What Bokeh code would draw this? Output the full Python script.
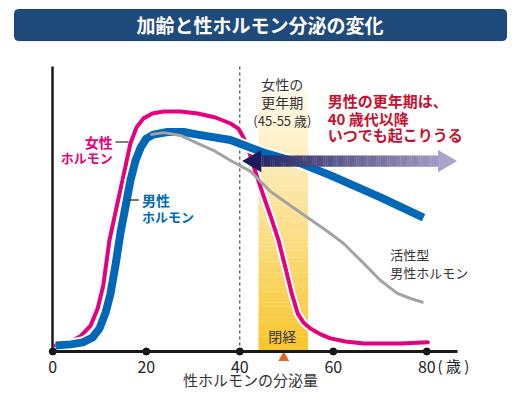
import numpy as np
from bokeh.plotting import figure
from bokeh.models import Range1d, LinearAxis, FixedTicker
from bokeh.core.properties import value
from bokeh.embed import file_html
from bokeh.resources import INLINE

# ---------------- data (age in years, relative secretion level) ----------------
female_age = [0.6, 3.8, 5.9, 8.1, 9.6, 10.8, 12.1, 13.4, 14.9, 16.6, 17.9, 19.4, 21.3, 23.7,
              27.3, 31.0, 34.8, 38.0, 39.7, 40.8, 41.9, 43.4, 44.9, 46.6, 48.3, 49.8,
              51.1, 52.4, 53.6, 55.1, 57.3, 59.4, 62.6, 66.5, 74.4, 80.2]
female_level = [2.1, 3.5, 5.3, 9.1, 15.1, 23.2, 38.9, 48.8, 60.0, 73.0, 78.6, 81.8, 83.5, 84.2,
                84.2, 83.5, 82.1, 80.0, 78.2, 75.1, 70.5, 62.8, 55.4, 47.4, 38.9, 29.1,
                20.4, 13.3, 10.2, 8.1, 6.0, 4.6, 3.5, 2.8, 2.8, 3.2]

male_age = [0.6, 3.8, 6.4, 8.5, 10.0, 11.3, 12.3, 13.4, 14.5, 15.6, 16.6, 17.7, 18.8, 20.0,
            21.5, 24.5, 28.0, 31.0, 38.0, 45.1, 53.0, 59.4, 70.1, 79.3]
male_level = [2.1, 2.5, 3.2, 4.9, 8.1, 13.7, 20.0, 30.2, 41.8, 51.2, 60.0, 67.0, 71.6, 74.7,
              76.1, 77.0, 77.0, 76.1, 74.2, 69.8, 66.0, 61.8, 54.1, 47.0]

active_age = [20.9, 23.7, 27.3, 31.0, 34.8, 38.0, 42.3, 46.6, 50.8, 55.1, 58.8, 62.2, 66.5,
              70.1, 73.7, 76.5, 79.3]
active_level = [76.1, 76.8, 75.8, 73.0, 70.2, 67.0, 63.2, 56.1, 51.2, 46.3, 42.1, 37.9, 30.9,
                24.9, 20.4, 18.6, 17.2]

tick_years = [0, 20, 40, 60, 80]
tick_labels = ["0", "20", "40", "60", "80"]
menopause_band = [44.0, 54.6]          # 女性の更年期 (45-55歳)
menopause_mark = 49.4                  # 閉経
male_climacteric = [40.5, 86.5]        # 男性の更年期: 40歳代以降
axis_end = 86.5

FONT = "Noto Sans CJK JP"
PINK = "#e4007f"
BLUE = "#0068b7"
GRAY = "#a3a3a3"
RED = "#c8102e"
TXT = "#333333"

W, H = 517, 393
p = figure(width=W, height=H, output_backend="svg", toolbar_location=None,
           x_range=Range1d(-11.19, 99.40), y_range=Range1d(-14.74, 123.16),
           x_axis_type=None, y_axis_type=None, min_border=0,
           outline_line_color=None, background_fill_color="white",
           border_fill_color="white")

# ---------------- title bar ----------------
p.quad(left=[-8.19], right=[97.05], bottom=[109.1], top=[120.0],
       fill_color="#1f4a7c", line_color="#1a3f6b", border_radius=4)
p.text(x=[44.3], y=[114.6], text=["加齢と性ホルモン分泌の変化"], text_color="white",
       text_font=value(FONT), text_font_style="bold", text_font_size="19px",
       text_align="center", text_baseline="middle")

# ---------------- menopause band (vertical gradient) ----------------
n = 70
band_top = 92.0
edges = np.linspace(0, band_top, n + 1)
tt = (edges[:-1] + edges[1:]) / 2 / band_top
c0 = np.array([248, 196, 40])
c1 = np.array([255, 251, 238])
cols = ["#%02x%02x%02x" % tuple(int(round(v)) for v in (c0 + (c1 - c0) * t ** 0.95)) for t in tt]
p.quad(left=menopause_band[0], right=menopause_band[1], bottom=edges[:-1],
       top=edges[1:] + 0.08, fill_color=cols, line_color=None)

# dashed line at age 40
p.segment(x0=[40], y0=[0], x1=[40], y1=[100], line_color="#222222",
          line_width=1, line_dash="3 3")

# ---------------- curves ----------------
p.line(female_age, female_level, line_color="white", line_width=8, line_join="round")
p.line(female_age, female_level, line_color=PINK, line_width=4, line_join="round", line_cap="round")
p.line(male_age, male_level, line_color="white", line_width=12, line_join="round")
p.line(male_age, male_level, line_color=BLUE, line_width=8, line_join="round", line_cap="butt")
p.line(active_age, active_level, line_color=GRAY, line_width=3, line_join="round")

# ---------------- double arrow with gradient ----------------
ay = 66.8
head_len = 4.1
head_h = 3.9
shaft_h = 1.95
xa, xb = male_climacteric
ca = np.array([28, 28, 92])
cb = np.array([172, 164, 204])
m = 80
sx = np.linspace(xa + head_len, xb - head_len, m + 1)
st = (sx[:-1] + sx[1:]) / 2
frac = (st - xa) / (xb - xa)
acols = ["#%02x%02x%02x" % tuple(int(round(v)) for v in (ca + (cb - ca) * f)) for f in frac]
p.quad(left=sx[:-1], right=sx[1:] + 0.05, bottom=ay - shaft_h, top=ay + shaft_h,
       fill_color=acols, line_color=None)
p.patch([xa, xa + head_len, xa + head_len], [ay, ay + head_h, ay - head_h],
        fill_color="#%02x%02x%02x" % tuple(ca), line_color=None)
p.patch([xb, xb - head_len, xb - head_len], [ay, ay + head_h, ay - head_h],
        fill_color="#%02x%02x%02x" % tuple(cb), line_color=None)

# ---------------- axes ----------------
xaxis = LinearAxis(fixed_location=0, bounds=(0, axis_end),
                   ticker=FixedTicker(ticks=tick_years),
                   major_label_overrides={t: l for t, l in zip(tick_years, tick_labels)},
                   axis_line_color="#1a1a1a", axis_line_width=3,
                   major_tick_line_color=None, minor_tick_line_color=None,
                   major_label_text_font=FONT, major_label_text_font_size="16px",
                   major_label_text_color="#222222", major_label_standoff=4)
p.add_layout(xaxis, "below")
yaxis = LinearAxis(fixed_location=0, bounds=(0, 100), ticker=FixedTicker(ticks=[]),
                   axis_line_color="#1a1a1a", axis_line_width=2.5,
                   major_tick_line_color=None, minor_tick_line_color=None,
                   major_label_text_font_size="0px")
p.add_layout(yaxis, "left")

p.scatter(tick_years, [0] * len(tick_years), size=7, color="#111111")
p.scatter([menopause_mark], [-2.2], marker="triangle", size=11,
          fill_color="#e8641e", line_color=None)

# ---------------- labels ----------------
def label(x, y, text, color=TXT, size="14px", bold=False, align="left"):
    p.text(x=[x], y=[y], text=[text], text_color=color, text_font=value(FONT),
           text_font_size=size, text_font_style="bold" if bold else "normal",
           text_align=align, text_baseline="middle")

label(12.8, 73.4, "女性", PINK, "14px", True, "right")
label(12.8, 68.0, "ホルモン", PINK, "13px", True, "right")
p.segment(x0=[13.4], y0=[73.5], x1=[16.2], y1=[73.5], line_color="#555555", line_width=1.5)

label(19.1, 53.2, "男性", BLUE, "14px", True)
label(19.1, 47.5, "ホルモン", BLUE, "13px", True)
p.segment(x0=[16.0], y0=[53.2], x1=[18.4], y1=[53.2], line_color="#444444", line_width=1.5)

label(49.1, 94.0, "女性の", TXT, "14px", False, "center")
label(49.1, 87.6, "更年期", TXT, "14px", False, "center")
label(49.1, 81.1, "(45-55 歳)", TXT, "13px", False, "center")

label(58.8, 87.9, "男性の更年期は、", RED, "15px", True)
label(58.8, 81.9, "40 歳代以降", RED, "15px", True)
label(58.8, 76.1, "いつでも起こりうる", RED, "15px", True)

label(72.2, 34.0, "活性型", TXT, "13px")
label(72.2, 27.7, "男性ホルモン", TXT, "13px")

label(49.1, 5.3, "閉経", TXT, "14px", False, "center")
label(82.3, -4.9, "( 歳 )", "#222222", "15px")
label(42.3, -9.9, "性ホルモンの分泌量", TXT, "15px", False, "center")

open("out.html", "w").write(file_html(p, INLINE))
